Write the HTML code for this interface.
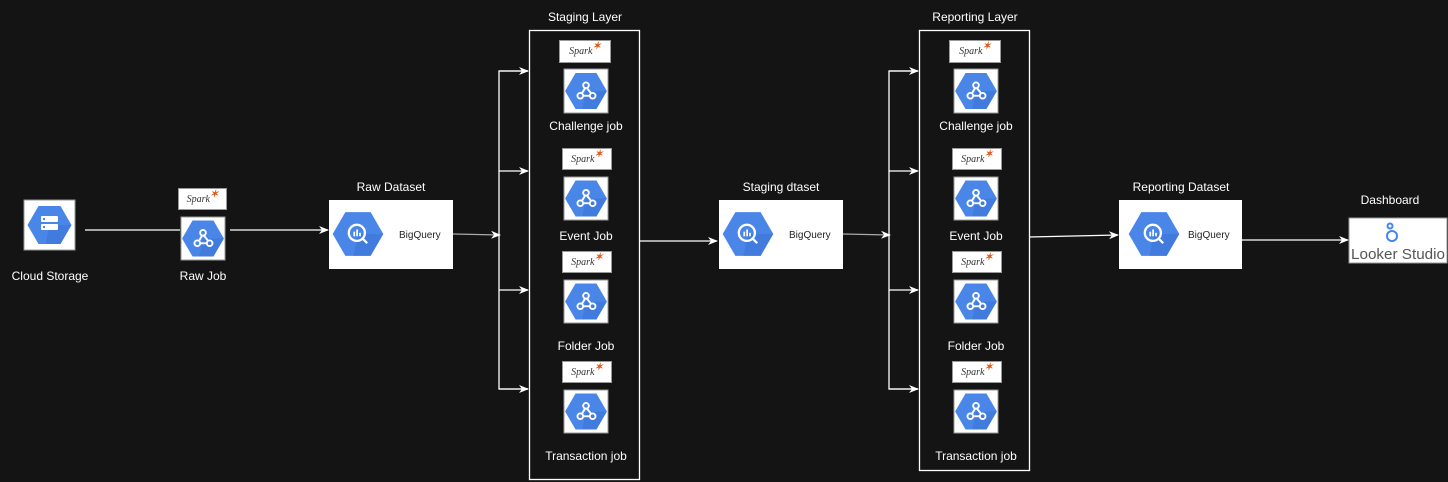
<!DOCTYPE html>
<html><head><meta charset="utf-8"><style>
body{margin:0;width:1448px;height:482px;background:#141414;overflow:hidden;position:relative;font-family:"Liberation Sans",sans-serif;}
.a{position:absolute;}
.t{position:absolute;color:#fff;font-size:12px;text-align:center;width:160px;margin-left:-80px;line-height:14px;}
.spark{position:absolute;background:#fff;border:1px solid #999;box-sizing:border-box;font-family:"Liberation Serif",serif;font-style:italic;font-size:10px;color:#333;text-align:center;line-height:22px;}
.spark b{color:#e25a1c;font-size:10px;position:relative;top:-5px;}
</style></head><body>
<svg class="a" style="left:0;top:0" width="1448" height="482">
<defs>
<marker id="m" markerWidth="10" markerHeight="10" refX="9" refY="5" orient="auto" markerUnits="userSpaceOnUse"><path d="M0,1 L10,5 L0,9 L3,5 z" fill="#fff"/></marker>
<g id="hex"><polygon points="-11,-19 11,-19 22,0 11,19 -11,19 -22,0" fill="#4a86e8"/><polygon points="0,0 22,0 11,19 -4,19" fill="#3c74d6" opacity=".6"/></g>
<g id="df"><use href="#hex"/><g stroke="#fff" stroke-width="2" fill="none"><circle cx="0" cy="-6" r="3"/><circle cx="-6" cy="5" r="3"/><circle cx="7" cy="5" r="3"/><line x1="-1" y1="-3" x2="-4" y2="2"/><line x1="-3" y1="5" x2="4" y2="5"/><line x1="1" y1="-3" x2="5" y2="2"/></g></g>
<g id="bq"><use href="#hex"/><g stroke="#fff" stroke-width="2" fill="none"><circle cx="-1" cy="-1" r="7"/><line x1="4" y1="4" x2="8" y2="8"/></g><g fill="#fff"><rect x="-4" y="-2" width="1.5" height="4"/><rect x="-1.5" y="-4" width="1.5" height="6"/><rect x="1" y="-1" width="1.5" height="3"/></g></g>
</defs>
<g stroke="#fff" stroke-width="1.3" fill="none">
<line x1="85" y1="230" x2="180" y2="230"/>
<line x1="230" y1="230" x2="328" y2="230" marker-end="url(#m)"/>
<line x1="453" y1="234" x2="500" y2="235" marker-end="url(#m)" stroke="#aaa"/>
<polyline points="528,71 499,71 499,389 528,389"/>
<line x1="499" y1="71" x2="528" y2="71" marker-end="url(#m)"/>
<line x1="499" y1="171" x2="528" y2="171" marker-end="url(#m)"/>
<line x1="499" y1="290" x2="528" y2="290" marker-end="url(#m)"/>
<line x1="499" y1="389" x2="528" y2="389" marker-end="url(#m)"/>
<line x1="639" y1="241" x2="717" y2="241" marker-end="url(#m)"/>
<line x1="843" y1="234" x2="890" y2="235" marker-end="url(#m)" stroke="#aaa"/>
<polyline points="918,71 889,71 889,389 918,389"/>
<line x1="889" y1="71" x2="918" y2="71" marker-end="url(#m)"/>
<line x1="889" y1="171" x2="918" y2="171" marker-end="url(#m)"/>
<line x1="889" y1="290" x2="918" y2="290" marker-end="url(#m)"/>
<line x1="889" y1="389" x2="918" y2="389" marker-end="url(#m)"/>
<line x1="1029" y1="237" x2="1118" y2="235" marker-end="url(#m)"/>
<line x1="1242" y1="240" x2="1348" y2="240" marker-end="url(#m)"/>
<rect x="529.5" y="30.5" width="110" height="449" stroke="#fff"/>
<rect x="919.5" y="30.5" width="110" height="440" stroke="#fff"/>
</g>
<rect x="24" y="200" width="51" height="50" fill="#fff" stroke="#999"/>
<use href="#hex" x="49.5" y="225"/>
<g fill="#fff"><rect x="41" y="216" width="17" height="6" rx="1"/><rect x="41" y="224" width="17" height="6" rx="1"/></g>
<g fill="#4a86e8"><rect x="43" y="218" width="2" height="2"/><rect x="43" y="226" width="2" height="2"/></g>
<rect x="181" y="217" width="44" height="43" fill="#fff" stroke="#999"/>
<use href="#df" transform="translate(203,238.5) scale(0.95)"/>
<rect x="329" y="200" width="124" height="69" fill="#fff"/>
<use href="#bq" transform="translate(358,234) scale(1.15)"/>
<rect x="719" y="200" width="124" height="69" fill="#fff"/>
<use href="#bq" transform="translate(748,234) scale(1.15)"/>
<rect x="1119" y="200" width="123" height="69" fill="#fff"/>
<use href="#bq" transform="translate(1154,234) scale(1.15)"/>
<g font-family="Liberation Sans" font-size="10" fill="#222">
<text x="399" y="238">BigQuery</text><text x="789" y="238">BigQuery</text><text x="1188" y="238">BigQuery</text>
</g>
<g id="jobs">
<rect x="564" y="69" width="44" height="44" fill="#fff" stroke="#999"/><use href="#df" transform="translate(586,91) scale(0.95)"/>
<rect x="564" y="177" width="44" height="43" fill="#fff" stroke="#999"/><use href="#df" transform="translate(586,198.5) scale(0.95)"/>
<rect x="564" y="280" width="44" height="43" fill="#fff" stroke="#999"/><use href="#df" transform="translate(586,301.5) scale(0.95)"/>
<rect x="564" y="390" width="44" height="43" fill="#fff" stroke="#999"/><use href="#df" transform="translate(586,411.5) scale(0.95)"/>
</g>
<use href="#jobs" x="390"/>
<rect x="1349" y="218" width="98" height="45" fill="#fff" stroke="#999"/>
<g stroke="#4285f4" stroke-width="2" fill="none"><circle cx="1390" cy="226" r="2.5"/><circle cx="1392" cy="236" r="5"/></g>
<text x="1398" y="259" font-family="Liberation Sans" font-size="15" fill="#555" text-anchor="middle" textLength="94" lengthAdjust="spacingAndGlyphs">Looker Studio</text>
</svg>
<div class="spark" style="left:178px;top:188px;width:49px;height:22px">Spark<b>✶</b></div>
<div class="spark" style="left:559px;top:40px;width:52px;height:23px">Spark<b>✶</b></div>
<div class="spark" style="left:562px;top:148px;width:50px;height:22px">Spark<b>✶</b></div>
<div class="spark" style="left:562px;top:251px;width:50px;height:22px">Spark<b>✶</b></div>
<div class="spark" style="left:562px;top:361px;width:50px;height:22px">Spark<b>✶</b></div>
<div class="spark" style="left:949px;top:40px;width:52px;height:23px">Spark<b>✶</b></div>
<div class="spark" style="left:952px;top:148px;width:50px;height:22px">Spark<b>✶</b></div>
<div class="spark" style="left:952px;top:251px;width:50px;height:22px">Spark<b>✶</b></div>
<div class="spark" style="left:952px;top:361px;width:50px;height:22px">Spark<b>✶</b></div>
<div class="t" style="left:50px;top:269px">Cloud Storage</div>
<div class="t" style="left:203px;top:269px">Raw Job</div>
<div class="t" style="left:391px;top:180px">Raw Dataset</div>
<div class="t" style="left:585px;top:10px">Staging Layer</div>
<div class="t" style="left:781px;top:180px">Staging dtaset</div>
<div class="t" style="left:975px;top:10px">Reporting Layer</div>
<div class="t" style="left:1181px;top:180px">Reporting Dataset</div>
<div class="t" style="left:1390px;top:193px">Dashboard</div>
<div class="t" style="left:586px;top:119px">Challenge job</div>
<div class="t" style="left:586px;top:229px">Event Job</div>
<div class="t" style="left:586px;top:339px">Folder Job</div>
<div class="t" style="left:586px;top:449px">Transaction job</div>
<div class="t" style="left:976px;top:119px">Challenge job</div>
<div class="t" style="left:976px;top:229px">Event Job</div>
<div class="t" style="left:976px;top:339px">Folder Job</div>
<div class="t" style="left:976px;top:449px">Transaction job</div>
</body></html>
